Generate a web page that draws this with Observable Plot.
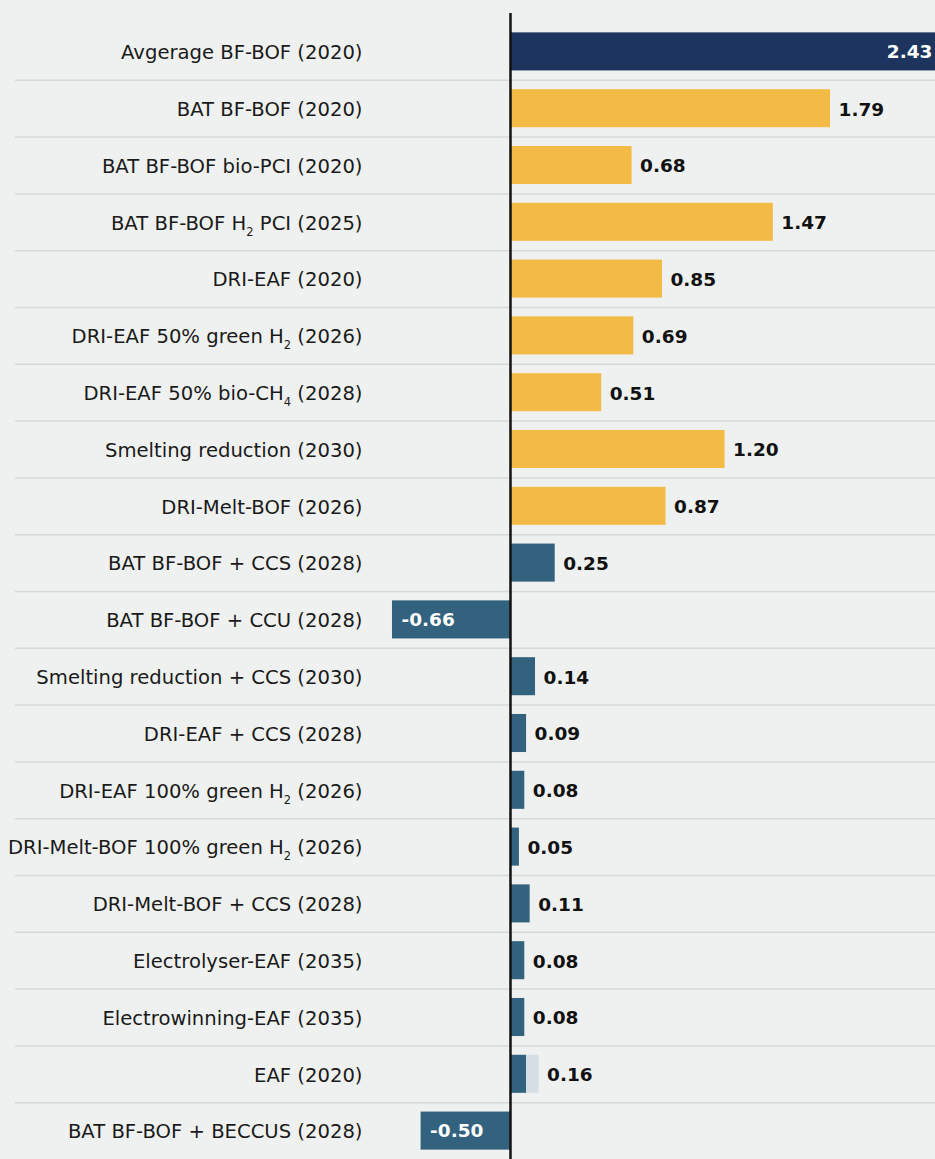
<!DOCTYPE html>
<html>
<head>
<meta charset="utf-8">
<script src="https://cdn.jsdelivr.net/npm/d3@7"></script>
<script src="https://cdn.jsdelivr.net/npm/@observablehq/plot@0.6"></script>
<style>
  html, body { margin: 0; padding: 0; background: #eff1f0; }
  #chart { width: 935px; height: 1159px; overflow: hidden; }
</style>
</head>
<body>
<div id="chart"></div>
<script>
// ---- data ----
const labels = [
  "Avgerage BF-BOF (2020)",
  "BAT BF-BOF (2020)",
  "BAT BF-BOF bio-PCI (2020)",
  "BAT BF-BOF H₂ PCI (2025)",
  "DRI-EAF (2020)",
  "DRI-EAF 50% green H₂ (2026)",
  "DRI-EAF 50% bio-CH₄ (2028)",
  "Smelting reduction (2030)",
  "DRI-Melt-BOF (2026)",
  "BAT BF-BOF + CCS (2028)",
  "BAT BF-BOF + CCU (2028)",
  "Smelting reduction + CCS (2030)",
  "DRI-EAF + CCS (2028)",
  "DRI-EAF 100% green H₂ (2026)",
  "DRI-Melt-BOF 100% green H₂ (2026)",
  "DRI-Melt-BOF + CCS (2028)",
  "Electrolyser-EAF (2035)",
  "Electrowinning-EAF (2035)",
  "EAF (2020)",
  "BAT BF-BOF + BECCUS (2028)"
];
const values = [2.43, 1.79, 0.68, 1.47, 0.85, 0.69, 0.51, 1.20, 0.87, 0.25,
                -0.66, 0.14, 0.09, 0.08, 0.05, 0.11, 0.08, 0.08, 0.16, -0.50];
// light-coloured share of the bar (only EAF)
const lightPart = [0, 0, 0, 0, 0, 0, 0, 0, 0, 0,
                   0, 0, 0, 0, 0, 0, 0, 0, 0.07, 0];
const groups = ["average", "bf", "bf", "bf", "bf", "bf", "bf", "bf", "bf", "other",
                "other", "other", "other", "other", "other", "other", "other", "other", "other", "other"];
const groupNames = ["average", "bf", "other"];
const groupColors = ["#1d355e", "#f3bb46", "#33627e"];
const lightColor = "#d5dee5";
const xDomain = [-0.727, 2.377];

const rows = labels.map((label, i) => ({
  label, value: values[i], light: lightPart[i], group: groups[i]
}));
const fmt = v => v.toFixed(2);

const FONT = "'DejaVu Sans', sans-serif";

const plot = Plot.plot({
  width: 935,
  height: 1159,
  marginLeft: 380,
  marginRight: 0,
  marginTop: 23,
  marginBottom: 0,
  style: { background: "#eff1f0", fontFamily: FONT, color: "#1a1a1a", overflow: "hidden" },
  x: { domain: xDomain, axis: null },
  y: { domain: labels, paddingInner: 0.33, paddingOuter: 0.165, round: false, label: null },
  color: { domain: groupNames, range: groupColors },
  marks: [
    Plot.ruleY(labels.slice(0, -1), {
      y: d => d, dy: 28.4, stroke: "#d7d9d8", strokeWidth: 1.5, insetLeft: -365
    }),
    Plot.barX(rows, {
      y: "label", x1: 0, x2: d => d.value - d.light, fill: "group", clip: true
    }),
    Plot.barX(rows.filter(d => d.light > 0), {
      y: "label", x1: d => d.value - d.light, x2: "value", fill: lightColor
    }),
    // labels outside bars
    Plot.text(rows.filter(d => d.value >= 0 && d.value <= xDomain[1]), {
      y: "label", x: "value", text: d => fmt(d.value), textAnchor: "start", dx: 8, dy: 1,
      fontWeight: "bold", fontSize: 18.5, fill: "#111"
    }),
    // labels inside negative bars
    Plot.text(rows.filter(d => d.value < 0), {
      y: "label", x: "value", text: d => fmt(d.value), textAnchor: "start", dx: 9,
      fontWeight: "bold", fontSize: 18.5, fill: "white"
    }),
    // label inside clipped bar
    Plot.text(rows.filter(d => d.value > xDomain[1]), {
      y: "label", x: () => xDomain[1], text: d => fmt(d.value), textAnchor: "end", dx: -3,
      fontWeight: "bold", fontSize: 18.5, fill: "white"
    }),
    Plot.axisY({ tickSize: 0, tickPadding: 18, fontSize: 19.6, dy: 1, label: null }),
    Plot.ruleX([0], { stroke: "#111", strokeWidth: 2.5, insetTop: -10 })
  ]
});

// render subscripts (₂, ₄) as real lowered digits
const subMap = { "₂": "2", "₄": "4" };
plot.querySelectorAll("text").forEach(t => {
  const s = t.textContent;
  if (!/[₂₄]/.test(s)) return;
  while (t.firstChild) t.removeChild(t.firstChild);
  const parts = s.split(/([₂₄])/);
  const ns = "http://www.w3.org/2000/svg";
  let shifted = false;
  parts.forEach(p => {
    if (!p) return;
    const ts = document.createElementNS(ns, "tspan");
    if (subMap[p]) {
      ts.textContent = subMap[p];
      ts.setAttribute("dy", "6");
      ts.setAttribute("font-size", "11.5");
      shifted = true;
    } else {
      ts.textContent = p;
      if (shifted) { ts.setAttribute("dy", "-6"); shifted = false; }
    }
    t.appendChild(ts);
  });
});

document.getElementById("chart").appendChild(plot);
</script>
</body>
</html>
